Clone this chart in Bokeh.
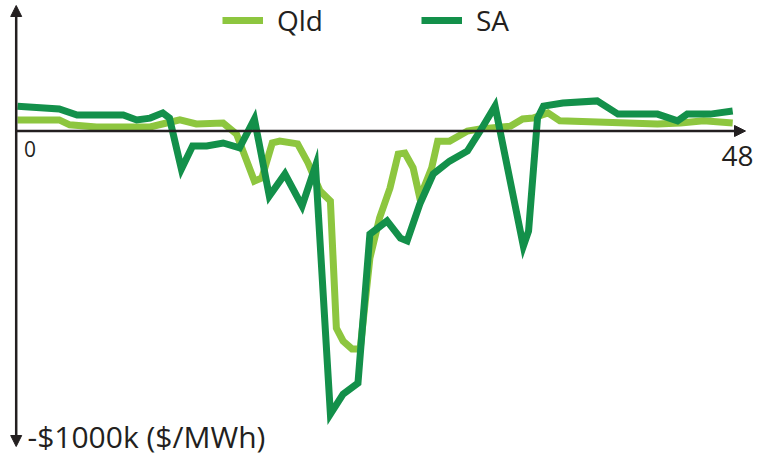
from bokeh.plotting import figure
from bokeh.models import Range1d, Arrow, NormalHead, Label, Legend, LegendItem
from bokeh.embed import file_html
from bokeh.resources import INLINE

# ---- data (half-hour interval index, price) ----
qld_x = [0, 2.8, 3.5, 5.3, 8.9, 10.0, 10.9, 12.0, 13.8, 14.7, 15.9, 16.4, 17.1, 17.6,
         18.8, 19.5, 20.3, 21.0, 21.4, 21.85, 22.45, 23.0, 23.65, 24.3, 25.0, 25.55,
         26.0, 26.55, 27.0, 27.8, 28.2, 29.0, 30.2, 31.05, 33.1, 33.9, 34.6, 35.6,
         36.4, 42.95, 44.5, 46.05, 48]
qld_y = [36, 36, 20, 13, 13, 26, 36, 23, 26, -10, -163, -153, -39, -33,
         -42, -104, -195, -228, -642, -684, -710, -710, -414, -283, -186, -75,
         -72, -120, -218, -120, -33, -33, 0, 7, 16, 39, 42, 59,
         33, 23, 26, 33, 26]

sa_x = [0, 2.8, 4.0, 7.1, 8.0, 8.9, 9.75, 10.2, 11.0, 11.75, 12.7, 13.8, 14.9, 15.9,
        16.9, 17.95, 19.1, 20.0, 21.0, 21.85, 22.85, 23.65, 24.8, 25.7, 26.15, 27.0,
        27.9, 29.0, 30.2, 31.05, 32.05, 33.95, 34.3, 34.9, 35.3, 36.6, 38.9, 40.3,
        42.95, 44.3, 44.95, 46.5, 48]
sa_y = [81, 72, 52, 52, 36, 42, 59, 42, -124, -49, -49, -39, -55, 39,
        -212, -140, -244, -114, -922, -857, -821, -336, -293, -349, -358, -238,
        -140, -98, -65, 0, 81, -375, -326, 42, 81, 91, 98, 55,
        55, 33, 55, 55, 65]

series_names = ["Qld", "SA"]
x_tick_labels = ["0", "48"]
y_label = "-$1000k ($/MWh)"

# ---- layout / style ----
W, H = 768, 457
PX0, KX = 17.0, 14.9      # px of x=0, px per unit
PY0, KY = 130.5, 0.307    # px of y=0, px per unit


def dx(cx):
    return (cx - PX0) / KX


def dy(cy):
    return (PY0 - cy) / KY


QLD_C = "#8dc63f"
SA_C = "#13904a"
AX_C = "#231f20"
FONT = "Open Sans"

p = figure(width=W, height=H,
           x_range=Range1d(dx(0), dx(W)), y_range=Range1d(dy(H), dy(0)),
           output_backend="svg", toolbar_location=None,
           x_axis_location=None, y_axis_location=None,
           min_border=0, outline_line_color=None)
p.grid.visible = False

r_qld = p.line(qld_x, qld_y, line_color=QLD_C, line_width=7, line_join="miter")
r_sa = p.line(sa_x, sa_y, line_color=SA_C, line_width=7, line_join="miter")

# axes with arrows
ax_x = dx(15.7)
p.add_layout(Arrow(start=NormalHead(size=11, fill_color=AX_C, line_color=AX_C, line_width=1),
                   end=NormalHead(size=11, fill_color=AX_C, line_color=AX_C, line_width=1),
                   x_start=ax_x, y_start=dy(446), x_end=ax_x, y_end=dy(5),
                   line_color=AX_C, line_width=2.5))
p.add_layout(Arrow(end=NormalHead(size=11, fill_color=AX_C, line_color=AX_C, line_width=1),
                   x_start=ax_x, y_start=0, x_end=dx(745), y_end=0,
                   line_color=AX_C, line_width=2.5))

# tick labels
p.add_layout(Label(x=dx(29.5), y=dy(148), text=x_tick_labels[0], text_align="center",
                   text_baseline="middle", text_font=FONT, text_font_size="21px",
                   text_color=AX_C))
p.add_layout(Label(x=dx(737), y=dy(155), text=x_tick_labels[1], text_align="center",
                   text_baseline="middle", text_font=FONT, text_font_size="28px",
                   text_color=AX_C))
p.add_layout(Label(x=dx(27), y=dy(436), text=y_label, text_align="left",
                   text_baseline="middle", text_font=FONT, text_font_size="30px",
                   text_color=AX_C))

legend = Legend(items=[LegendItem(label=series_names[0], renderers=[r_qld]),
                       LegendItem(label=series_names[1], renderers=[r_sa])],
                orientation="horizontal", location=(222, 418),
                glyph_width=41, glyph_height=20, label_standoff=14, spacing=98,
                padding=0, margin=0, border_line_alpha=0, background_fill_alpha=0,
                label_text_font=FONT, label_text_font_size="28px", label_text_color=AX_C)
p.add_layout(legend, "center")

open("out.html", "w").write(file_html(p, INLINE))
